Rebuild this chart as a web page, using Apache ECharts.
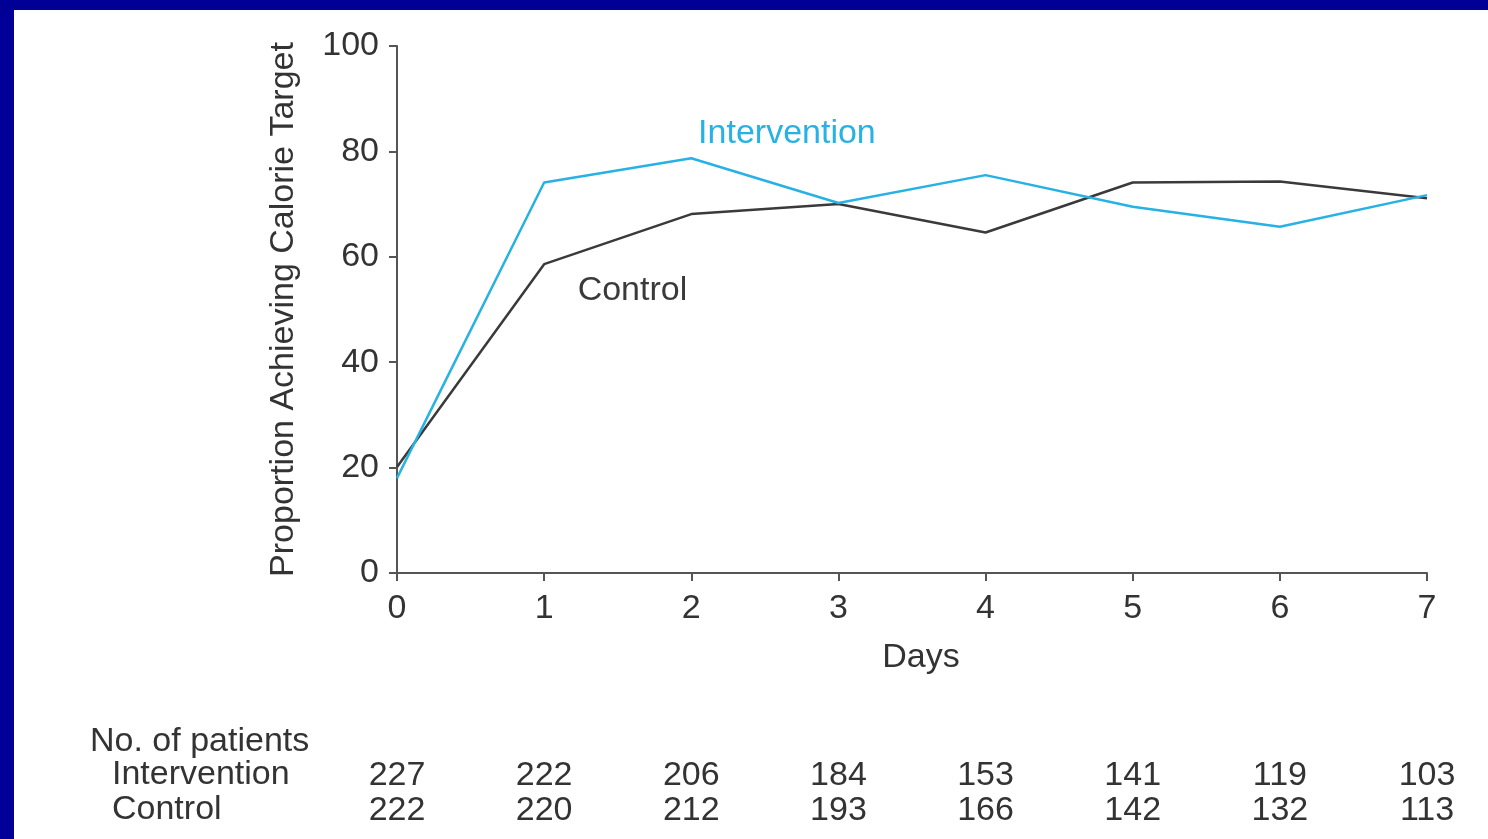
<!DOCTYPE html>
<html>
<head>
<meta charset="utf-8">
<script src="https://cdn.jsdelivr.net/npm/echarts@6/dist/echarts.min.js"></script>
<style>
  html, body { margin: 0; padding: 0; width: 1488px; height: 839px; background: #000096; overflow: hidden; }
  #chart { position: absolute; left: 14px; top: 10px; width: 1474px; height: 829px; background: #ffffff; }
</style>
</head>
<body>
<div id="chart"></div>
<script>
// ---- data ----
const days = [0, 1, 2, 3, 4, 5, 6, 7];
const interventionPct = [18.0, 74.1, 78.7, 70.2, 75.5, 69.5, 65.7, 71.7];
const controlPct      = [20.1, 58.6, 68.1, 70.0, 64.6, 74.1, 74.3, 71.1];
const yTicks = [0, 20, 40, 60, 80, 100];
const interventionN = [227, 222, 206, 184, 153, 141, 119, 103];
const controlN      = [222, 220, 212, 193, 166, 142, 132, 113];
const seriesNames = ['Intervention', 'Control'];
const interventionLabelAt = [2.65, 83.3];
const controlLabelAt = [1.60, 53.6];

const FONT = "'Liberation Sans', Arial, Helvetica, sans-serif";
const TEXT = '#333333';
const AXIS = '#555555';
const CYAN = '#27b1e4';
const DARK = '#3a3a3a';
const FS = 34;

const chart = echarts.init(document.getElementById('chart'), null, { renderer: 'canvas' });

function countAxis(counts, offset) {
  return {
    type: 'value', min: 0, max: 7, interval: 1, position: 'bottom', offset: offset,
    axisLine: { show: false }, axisTick: { show: false }, splitLine: { show: false },
    axisLabel: {
      margin: 8, fontSize: FS, fontFamily: FONT, color: TEXT,
      formatter: v => { const i = days.indexOf(v); return i >= 0 ? String(counts[i]) : ''; }
    }
  };
}

chart.setOption({
  animation: false,
  backgroundColor: '#ffffff',
  textStyle: { fontFamily: FONT },
  grid: { left: 383, right: 61, top: 36, bottom: 266, containLabel: false },
  xAxis: [
    {
      type: 'value', min: 0, max: 7, interval: 1,
      name: 'Days', nameLocation: 'middle', nameGap: 68,
      nameTextStyle: { fontSize: FS, fontFamily: FONT, color: TEXT, padding: [0, 0, 0, 18] },
      axisLine: { show: true, lineStyle: { color: AXIS, width: 2 } },
      axisTick: { show: true, length: 8, lineStyle: { color: AXIS, width: 2 } },
      splitLine: { show: false },
      axisLabel: { margin: 19, fontSize: FS, fontFamily: FONT, color: TEXT,
        formatter: v => String(v) }
    },
    countAxis(interventionN, 178),
    countAxis(controlN, 213)
  ],
  yAxis: {
    type: 'value', min: 0, max: 100, interval: 20,
    name: 'Proportion Achieving Calorie Target', nameLocation: 'middle', nameGap: 96,
    nameTextStyle: { fontSize: FS, fontFamily: FONT, color: TEXT },
    axisLine: { show: true, lineStyle: { color: AXIS, width: 2 } },
    axisTick: { show: true, length: 8, lineStyle: { color: AXIS, width: 2 } },
    splitLine: { show: false },
    axisLabel: { margin: 18, fontSize: FS, fontFamily: FONT, color: TEXT,
      formatter: v => (yTicks.indexOf(v) >= 0 ? String(v) : '') }
  },
  graphic: [
    { type: 'text', left: 76, top: 715, style: { text: 'No. of patients', font: FS + 'px ' + FONT, fill: TEXT } },
    { type: 'text', left: 98, top: 748, style: { text: seriesNames[0], font: FS + 'px ' + FONT, fill: TEXT } },
    { type: 'text', left: 98, top: 783, style: { text: seriesNames[1], font: FS + 'px ' + FONT, fill: TEXT } }
  ],
  series: [
    {
      name: seriesNames[1], type: 'line', xAxisIndex: 0,
      data: days.map((d, i) => [d, controlPct[i]]),
      showSymbol: false, lineStyle: { color: DARK, width: 2.5 }, itemStyle: { color: DARK },
      markPoint: {
        symbol: 'circle', symbolSize: 0,
        label: { show: true, position: 'inside', formatter: '{b}', fontSize: FS, fontFamily: FONT, color: DARK },
        data: [{ name: seriesNames[1], coord: controlLabelAt }]
      }
    },
    {
      name: seriesNames[0], type: 'line', xAxisIndex: 0,
      data: days.map((d, i) => [d, interventionPct[i]]),
      showSymbol: false, lineStyle: { color: CYAN, width: 2.5 }, itemStyle: { color: CYAN },
      markPoint: {
        symbol: 'circle', symbolSize: 0,
        label: { show: true, position: 'inside', formatter: '{b}', fontSize: FS, fontFamily: FONT, color: CYAN },
        data: [{ name: seriesNames[0], coord: interventionLabelAt }]
      }
    }
  ]
});
</script>
</body>
</html>
